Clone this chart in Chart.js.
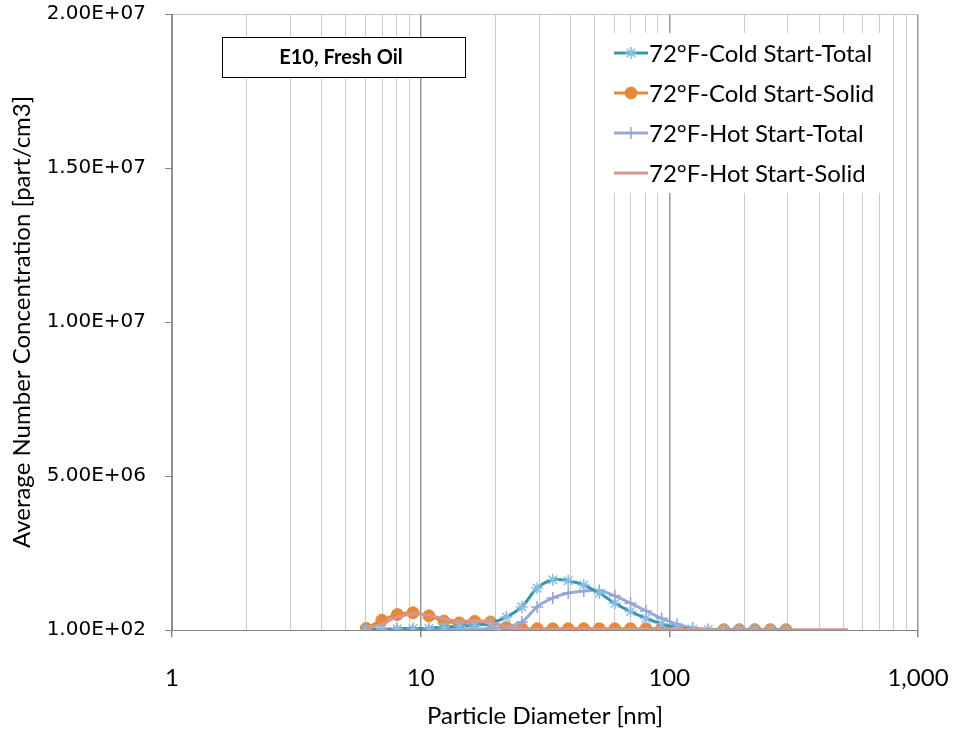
<!DOCTYPE html>
<html>
<head>
<meta charset="utf-8">
<script src="https://cdn.jsdelivr.net/npm/chart.js@4.4.0/dist/chart.umd.min.js"></script>
<style>
  html, body { margin: 0; padding: 0; background: #fff; }
  #wrap { position: relative; width: 955px; height: 731px; }
</style>
</head>
<body>
<div id="wrap"><canvas id="psd-chart" width="955" height="731"></canvas></div>
<script>
// SMPS bin mid-points, nm (16 channels per decade)
const diameters = [6.04, 6.98, 8.06, 9.31, 10.8, 12.4, 14.3, 16.5, 19.1, 22.1, 25.5, 29.4,
  34.0, 39.2, 45.3, 52.3, 60.4, 69.8, 80.6, 93.1, 107.5, 124.1, 143.3, 165.5,
  191.1, 220.7, 254.8, 294.3, 339.8, 392.4, 453.2, 523.3];

// average number concentration, part/cm3
const coldTotal = [2e4, 3e4, 4e4, 5e4, 6e4, 9e4, 1.3e5, 1.5e5, 2.2e5, 4.2e5, 7.5e5, 1.36e6,
  1.63e6, 1.6e6, 1.46e6, 1.2e6, 8.7e5, 6.0e5, 3.8e5, 2.0e5, 7e4, 2e4, 1e4, 5e3,
  5e3, 5e3, 5e3, 5e3];
const coldSolid = [5e4, 3.2e5, 5.0e5, 5.6e5, 4.6e5, 2.9e5, 2.3e5, 2.8e5, 2.6e5, 8e4, 5e4, 4e4,
  4e4, 4e4, 4e4, 4e4, 4e4, 4e4, 4e4, 4e4, 3e4, null, null, 1e4,
  1e4, 1e4, 1e4, 1e4];
const hotTotal = [2e4, 2e4, 2e4, 2e4, 2e4, 2e4, 2e4, 3e4, 5e4, 1e5, 2.6e5, 7.5e5,
  1.04e6, 1.2e6, 1.27e6, 1.28e6, 1.11e6, 8.7e5, 6.2e5, 3.8e5, 1.9e5, 7e4, 2e4, 1e4,
  5e3, 5e3, 5e3, 5e3];
const hotSolid = [4e4, 2.0e5, 4.2e5, 5.2e5, 4.8e5, 3.6e5, 2.9e5, 3.0e5, 2.6e5, 1.0e5, 4e4, 3e4,
  3e4, 3e4, 3e4, 3e4, 3e4, 3e4, 3e4, 3e4, 2e4, 2e4, 1e4, 1e4,
  1e4, 1e4, 1e4, 1e4, 1e4, 1e4, 1e4, 1e4];

const seriesNames = ['72°F-Cold Start-Total', '72°F-Cold Start-Solid', '72°F-Hot Start-Total', '72°F-Hot Start-Solid'];
const xGridValues = [1, 2, 3, 4, 5, 6, 7, 8, 9, 10, 20, 30, 40, 50, 60, 70, 80, 90,
  100, 200, 300, 400, 500, 600, 700, 800, 900, 1000];
const xLabelValues = [1, 10, 100, 1000];
const yTickValues = [100, 5e6, 1e7, 1.5e7, 2e7];

const toPoints = vals => vals.map((v, i) => ({ x: diameters[i], y: v }));

function sciLabel(v) {
  const exp = Math.floor(Math.log10(v));
  const mant = (v / Math.pow(10, exp)).toFixed(2);
  return mant + 'E+' + String(exp).padStart(2, '0');
}

// text box + legend drawn inside the plot
const overlay = {
  id: 'overlay',
  afterDraw(chart) {
    const ctx = chart.ctx;
    ctx.save();
    // label box
    ctx.fillStyle = '#fff';
    ctx.fillRect(222, 37, 243, 40);
    ctx.strokeStyle = '#000';
    ctx.lineWidth = 1;
    ctx.strokeRect(222.5, 37.5, 243, 40);
    ctx.fillStyle = '#000';
    ctx.font = 'bold 20px Lato';
    ctx.textAlign = 'center';
    ctx.textBaseline = 'middle';
    ctx.fillText('E10, Fresh Oil', 341, 58);

    // legend
    ctx.fillStyle = '#fff';
    ctx.fillRect(598, 33, 292, 160);
    const rows = [53, 93, 133, 173];
    chart.data.datasets.forEach((ds, i) => {
      const y = rows[i];
      ctx.strokeStyle = ds.borderColor;
      ctx.lineWidth = 3;
      ctx.beginPath();
      ctx.moveTo(614, y);
      ctx.lineTo(648, y);
      ctx.stroke();
      if (ds.pointRadius > 0) {
        ctx.fillStyle = ds.pointBackgroundColor;
        ctx.strokeStyle = ds.pointBorderColor;
        ctx.lineWidth = ds.pointBorderWidth;
        Chart.helpers.drawPoint(ctx, {
          pointStyle: ds.pointStyle, radius: ds.pointRadius, borderWidth: ds.pointBorderWidth, rotation: 0
        }, 631, y);
      }
      ctx.fillStyle = '#000';
      ctx.font = '24px Lato';
      ctx.textAlign = 'left';
      ctx.fillText(ds.label, 649, y + 1);
    });
    ctx.restore();
  }
};

new Chart(document.getElementById('psd-chart'), {
  type: 'line',
  data: {
    datasets: [
      {
        label: seriesNames[0],
        data: toPoints(coldTotal),
        borderColor: '#3597A8',
        borderWidth: 3,
        pointStyle: 'star',
        pointRadius: 6,
        pointBorderWidth: 1.5,
        pointBorderColor: '#86BDE0',
        pointBackgroundColor: '#86BDE0',
        tension: 0.35,
        order: 1
      },
      {
        label: seriesNames[1],
        data: toPoints(coldSolid),
        borderColor: '#E6893B',
        borderWidth: 3,
        pointStyle: 'circle',
        pointRadius: 6,
        pointBorderWidth: 1,
        pointBorderColor: '#E6893B',
        pointBackgroundColor: '#E6893B',
        tension: 0.35,
        spanGaps: true,
        order: 3
      },
      {
        label: seriesNames[2],
        data: toPoints(hotTotal),
        borderColor: '#9AAAD8',
        borderWidth: 3,
        pointStyle: 'cross',
        pointRadius: 6,
        pointBorderWidth: 1.5,
        pointBorderColor: '#93A4D6',
        pointBackgroundColor: '#93A4D6',
        tension: 0.35,
        order: 2
      },
      {
        label: seriesNames[3],
        data: toPoints(hotSolid),
        borderColor: '#D69693',
        borderWidth: 3,
        pointRadius: 0,
        tension: 0.35,
        order: 0
      }
    ]
  },
  options: {
    responsive: false,
    animation: false,
    layout: { padding: { top: 14, right: 37, left: 0, bottom: 0 } },
    plugins: {
      legend: { display: false },
      tooltip: { enabled: false }
    },
    scales: {
      x: {
        type: 'logarithmic',
        min: 1,
        max: 1000,
        afterBuildTicks: scale => { scale.ticks = xGridValues.map(v => ({ value: v })); },
        afterFit: scale => {
          scale.height = 101;
          scale.paddingLeft = 0;
          scale.paddingRight = 0;
        },
        border: { color: '#868686', width: 1 },
        grid: {
          color: c => xLabelValues.includes(c.tick.value) ? '#979797' : '#cbcbcb',
          lineWidth: c => xLabelValues.includes(c.tick.value) ? 1.5 : 1,
          tickColor: c => xLabelValues.includes(c.tick.value) ? '#868686' : 'rgba(0,0,0,0)',
          tickLength: 7
        },
        ticks: {
          autoSkip: false,
          maxRotation: 0,
          padding: 27,
          color: '#000',
          font: { family: 'Lato', size: 24 },
          callback: v => xLabelValues.includes(v) ? v.toLocaleString('en-US') : ''
        },
        title: {
          display: true,
          text: 'Particle Diameter [nm]',
          color: '#000',
          font: { family: 'Lato', size: 24 },
          padding: { top: 0, bottom: 0 }
        }
      },
      y: {
        min: 100,
        max: 2e7,
        afterBuildTicks: scale => { scale.ticks = yTickValues.map(v => ({ value: v })); },
        afterFit: scale => {
          scale.width = 172;
          scale.paddingTop = 0;
          scale.paddingBottom = 0;
        },
        border: { color: '#868686', width: 1 },
        grid: {
          color: c => c.tick.value === 2e7 ? '#c4c4c4' : 'rgba(0,0,0,0)',
          tickColor: '#868686',
          tickLength: 7
        },
        ticks: {
          padding: 19,
          color: '#000',
          font: { family: 'DejaVu Sans', size: 20 },
          callback: v => sciLabel(v)
        },
        title: {
          display: true,
          text: 'Average Number Concentration [part/cm3]',
          color: '#000',
          font: { family: 'Lato', size: 24 },
          padding: { top: 8, bottom: 0 }
        }
      }
    }
  },
  plugins: [overlay]
});
</script>
</body>
</html>
